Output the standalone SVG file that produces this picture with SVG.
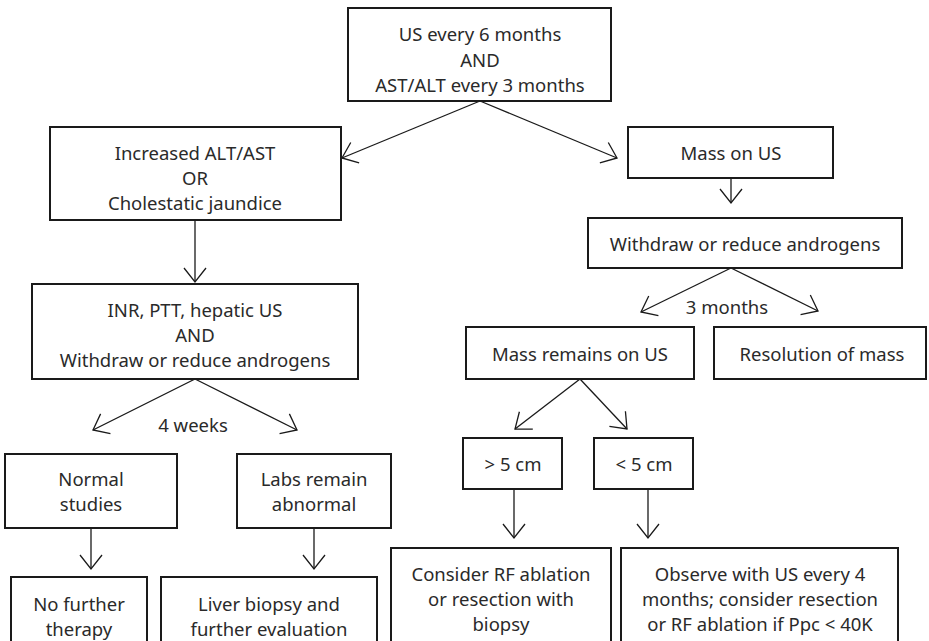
<svg xmlns="http://www.w3.org/2000/svg" width="929" height="641" viewBox="0 0 929 641">
<style>
.box{fill:#fff;stroke:#1a1a1a;stroke-width:2}
.t{font-family:"Noto Sans","Open Sans",sans-serif;font-size:18.5px;fill:#2a2a2a;text-anchor:middle;dominant-baseline:central}
.c{fill:none;stroke:#1a1a1a;stroke-width:1.3}
</style>
<defs>
<marker id="ah" markerUnits="userSpaceOnUse" markerWidth="24" markerHeight="24" refX="16" refY="11" orient="auto" viewBox="0 0 24 22">
<path d="M2,0 L16,11 L2,22" fill="none" stroke="#1a1a1a" stroke-width="1.3"/>
</marker>
</defs>
<rect width="929" height="641" fill="#fff"/>
<g id="connectors">
<line class="c" x1="480" y1="101" x2="342" y2="158" marker-end="url(#ah)"/>
<line class="c" x1="480" y1="101" x2="617" y2="158" marker-end="url(#ah)"/>
<line class="c" x1="195" y1="220" x2="195" y2="282" marker-end="url(#ah)"/>
<line class="c" x1="195" y1="379" x2="93" y2="430" marker-end="url(#ah)"/>
<line class="c" x1="195" y1="379" x2="297" y2="430" marker-end="url(#ah)"/>
<line class="c" x1="91" y1="528" x2="91" y2="569" marker-end="url(#ah)"/>
<line class="c" x1="314" y1="528" x2="314" y2="569" marker-end="url(#ah)"/>
<line class="c" x1="731" y1="178" x2="731" y2="203" marker-end="url(#ah)"/>
<line class="c" x1="731" y1="268" x2="641" y2="312" marker-end="url(#ah)"/>
<line class="c" x1="731" y1="268" x2="818" y2="311" marker-end="url(#ah)"/>
<line class="c" x1="580" y1="379" x2="515" y2="429" marker-end="url(#ah)"/>
<line class="c" x1="580" y1="379" x2="627" y2="429" marker-end="url(#ah)"/>
<line class="c" x1="514" y1="489" x2="514" y2="538" marker-end="url(#ah)"/>
<line class="c" x1="648" y1="489" x2="648" y2="538" marker-end="url(#ah)"/>
<text class="t" x="193" y="424">4 weeks</text>
<text class="t" x="727" y="306">3 months</text>
</g>
<g id="top">
<rect class="box" x="348" y="8" width="263" height="93"/>
<text class="t" x="480" y="33">US every 6 months</text>
<text class="t" x="480" y="59">AND</text>
<text class="t" x="480" y="84">AST/ALT every 3 months</text>
</g>
<g id="increased">
<rect class="box" x="50" y="127" width="291" height="93"/>
<text class="t" x="195" y="152">Increased ALT/AST</text>
<text class="t" x="195" y="177">OR</text>
<text class="t" x="195" y="202">Cholestatic jaundice</text>
</g>
<g id="inr">
<rect class="box" x="32" y="284" width="326" height="95"/>
<text class="t" x="195" y="309">INR, PTT, hepatic US</text>
<text class="t" x="195" y="334">AND</text>
<text class="t" x="195" y="359">Withdraw or reduce androgens</text>
</g>
<g id="normal">
<rect class="box" x="5" y="454" width="172" height="74"/>
<text class="t" x="91" y="478">Normal</text>
<text class="t" x="91" y="503">studies</text>
</g>
<g id="labs">
<rect class="box" x="237" y="454" width="154" height="74"/>
<text class="t" x="314" y="478">Labs remain</text>
<text class="t" x="314" y="503">abnormal</text>
</g>
<g id="nofurther">
<rect class="box" x="11" y="577" width="136" height="80"/>
<text class="t" x="79" y="603">No further</text>
<text class="t" x="79" y="628">therapy</text>
</g>
<g id="liver">
<rect class="box" x="161" y="577" width="216" height="80"/>
<text class="t" x="269" y="603">Liver biopsy and</text>
<text class="t" x="269" y="628">further evaluation</text>
</g>
<g id="mass">
<rect class="box" x="628" y="127" width="205" height="51"/>
<text class="t" x="731" y="152">Mass on US</text>
</g>
<g id="withdraw">
<rect class="box" x="588" y="218" width="314" height="50"/>
<text class="t" x="745" y="243">Withdraw or reduce androgens</text>
</g>
<g id="remains">
<rect class="box" x="466" y="327" width="228" height="52"/>
<text class="t" x="580" y="353">Mass remains on US</text>
</g>
<g id="resolution">
<rect class="box" x="714" y="327" width="212" height="52"/>
<text class="t" x="822" y="353">Resolution of mass</text>
</g>
<g id="gt5">
<rect class="box" x="463" y="438" width="99" height="51"/>
<text class="t" x="513" y="463">&gt; 5 cm</text>
</g>
<g id="lt5">
<rect class="box" x="594" y="438" width="99" height="51"/>
<text class="t" x="644" y="463">&lt; 5 cm</text>
</g>
<g id="consider">
<rect class="box" x="391" y="548" width="220" height="110"/>
<text class="t" x="501" y="573">Consider RF ablation</text>
<text class="t" x="501" y="598">or resection with</text>
<text class="t" x="501" y="623">biopsy</text>
</g>
<g id="observe">
<rect class="box" x="621" y="548" width="277" height="110"/>
<text class="t" x="760" y="573">Observe with US every 4</text>
<text class="t" x="760" y="598">months; consider resection</text>
<text class="t" x="760" y="623">or RF ablation if Ppc &lt; 40K</text>
</g>
</svg>
